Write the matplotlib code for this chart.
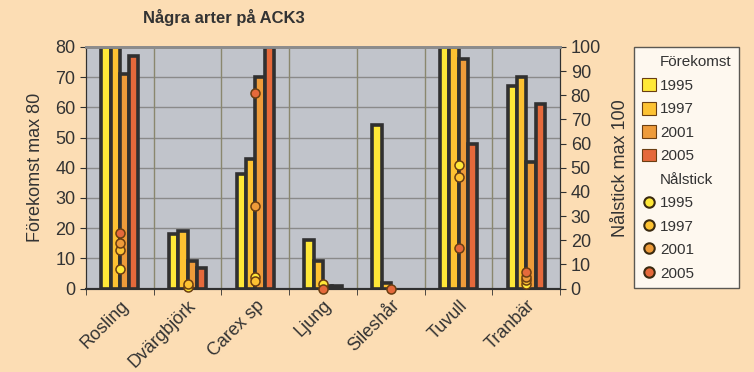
import numpy as np
import matplotlib.pyplot as plt
from matplotlib.patches import Patch
from matplotlib.lines import Line2D

plt.rcParams['font.family'] = ['Liberation Sans', 'DejaVu Sans']

arter = ["Rosling", "Dvärgbjörk", "Carex sp", "Ljung", "Sileshår", "Tuvull", "Tranbär"]
ar = ["1995", "1997", "2001", "2005"]
nan = np.nan

# Förekomst (vänster axel, max 80)
forekomst_1995 = [80, 18, 38, 16, 54, 80, 67]
forekomst_1997 = [80, 19, 43, 9, 2, 80, 70]
forekomst_2001 = [71, 9, 70, 1, nan, 76, 42]
forekomst_2005 = [77, 7, 80, 1, nan, 48, 61]

# Nålstick (höger axel, max 100)
nalstick_1995 = [8, 0.5, 5, 2, nan, 51, 2]
nalstick_1997 = [16, 2, 3, nan, nan, 46, 3.5]
nalstick_2001 = [19, nan, 34, nan, nan, nan, 5]
nalstick_2005 = [23, nan, 81, 0, 0, 17, 7]

farger = ["#FFE838", "#FDC232", "#EE9B3A", "#E5693B"]
bg = "#FCDDB4"
kant = "#303030"

fig = plt.figure(figsize=(7.54, 3.72), dpi=100, facecolor=bg)
ax = fig.add_axes([0.114, 0.224, 0.629, 0.650])
ax.set_facecolor("#C1C4CB")
ax2 = ax.twinx()

x = np.arange(len(arter))
w = 0.1375
forekomst = [forekomst_1995, forekomst_1997, forekomst_2001, forekomst_2005]
for i, vals in enumerate(forekomst):
    ax.bar(x + (i - 1.5) * w, vals, width=w, color=farger[i],
           edgecolor=kant, linewidth=2.6, zorder=3)

nalstick = [nalstick_1995, nalstick_1997, nalstick_2001, nalstick_2005]
for i, vals in enumerate(nalstick):
    ax2.plot(x, vals, linestyle="none", marker="o", markersize=6.5,
             markerfacecolor=farger[i], markeredgecolor="#6A3E12",
             markeredgewidth=1.1, clip_on=False, zorder=5)

ax.set_xlim(-0.5, len(arter) - 0.5)
ax.set_ylim(0, 80)
ax2.set_ylim(0, 100)
ax.set_yticks(np.arange(0, 81, 10))
ax2.set_yticks(np.arange(0, 101, 10))

ax.set_xticks(x)
ax.set_xticklabels(arter, rotation=45, ha="right", rotation_mode="anchor",
                   fontsize=13, color="#333333")
ax.set_xticks(np.arange(-0.5, len(arter)), minor=True)
ax.tick_params(axis="x", which="major", length=0, pad=6)
ax.tick_params(axis="x", which="minor", length=4, color=kant, direction="out")
ax.tick_params(axis="y", labelsize=13, labelcolor="#333333", length=4, color=kant)
ax2.tick_params(axis="y", labelsize=13, labelcolor="#333333", length=4, color=kant)

ax.grid(axis="y", color="#8A8A8A", linewidth=1, zorder=1)
for b in np.arange(0.5, len(arter) - 0.5):
    ax.axvline(b, color="#8A876E", linewidth=1, zorder=1)
ax.set_axisbelow(True)

for a in (ax, ax2):
    a.spines["top"].set_color("#8C8C8C")
    a.spines["top"].set_linewidth(2)
    a.spines["bottom"].set_color(kant)
    a.spines["bottom"].set_linewidth(1.5)
    a.spines["left"].set_color(kant)
    a.spines["right"].set_color(kant)

ax.set_ylabel("Förekomst max 80", fontsize=13, color="#333333", labelpad=8)
ax2.set_ylabel("Nålstick max 100", fontsize=13, color="#333333", labelpad=8)
fig.text(0.297, 0.952, "Några arter på ACK3", fontsize=12, fontweight="bold",
         color="#333333", ha="center", va="center")

tom = Patch(facecolor="none", edgecolor="none")
handles = [tom]
labels = ["Förekomst"]
for i, a in enumerate(ar):
    handles.append(Patch(facecolor=farger[i], edgecolor="#6A3E12", linewidth=0.8))
    labels.append(a)
handles.append(tom)
labels.append("Nålstick")
for i, a in enumerate(ar):
    handles.append(Line2D([], [], linestyle="none", marker="o", markersize=7.5,
                          markerfacecolor=farger[i], markeredgecolor="#3A2A10",
                          markeredgewidth=1.5))
    labels.append(a)

leg = fig.legend(handles, labels, loc="upper left", bbox_to_anchor=(0.841, 0.873),
                 fontsize=11, frameon=True, fancybox=False, handlelength=0.9,
                 handleheight=0.9, handletextpad=0.3, labelspacing=0.58,
                 borderpad=0.5, borderaxespad=0)
leg.get_frame().set_edgecolor("#333333")
leg.get_frame().set_linewidth(1)
leg.get_frame().set_facecolor("white")
for t in leg.get_texts():
    t.set_color("#333333")

fig.savefig("out.png", dpi=100, facecolor=bg)
